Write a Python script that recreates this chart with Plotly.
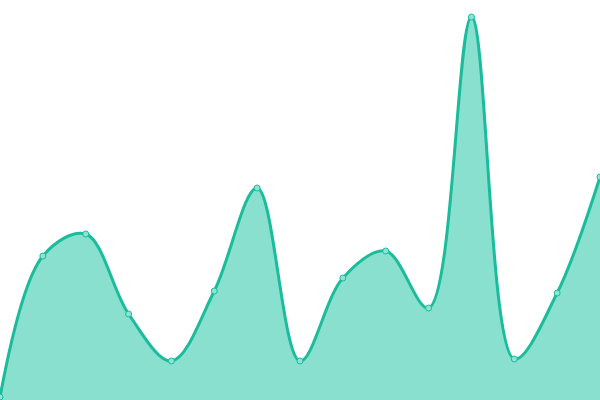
import plotly.graph_objects as go

# point index along x, one per ~43 px
idx = list(range(15))
values = [3, 144, 166, 86, 39, 109, 212, 39, 122, 149, 92, 383, 41, 107, 223]

LINE = "#1abc9c"
FILL = "#89e0cf"

fig = go.Figure()
fig.add_trace(go.Scatter(
    x=idx,
    y=values,
    mode="lines+markers",
    line=dict(color=LINE, width=3, shape="spline", smoothing=1),
    fill="tozeroy",
    fillcolor=FILL,
    marker=dict(size=6, color="#8fe3d2", line=dict(color=LINE, width=1)),
    cliponaxis=False,
    hoverinfo="skip",
))

fig.update_layout(
    width=600,
    height=400,
    margin=dict(l=0, r=0, t=0, b=0),
    paper_bgcolor="white",
    plot_bgcolor="white",
    showlegend=False,
    xaxis=dict(visible=False, range=[0, 14]),
    yaxis=dict(visible=False, range=[0, 400]),
)

# drop the default 8px page margin so the chart sits at the window corner
fig.write_html(
    "out.html",
    config={"displayModeBar": False},
    post_script="document.body.style.margin='0';",
)
